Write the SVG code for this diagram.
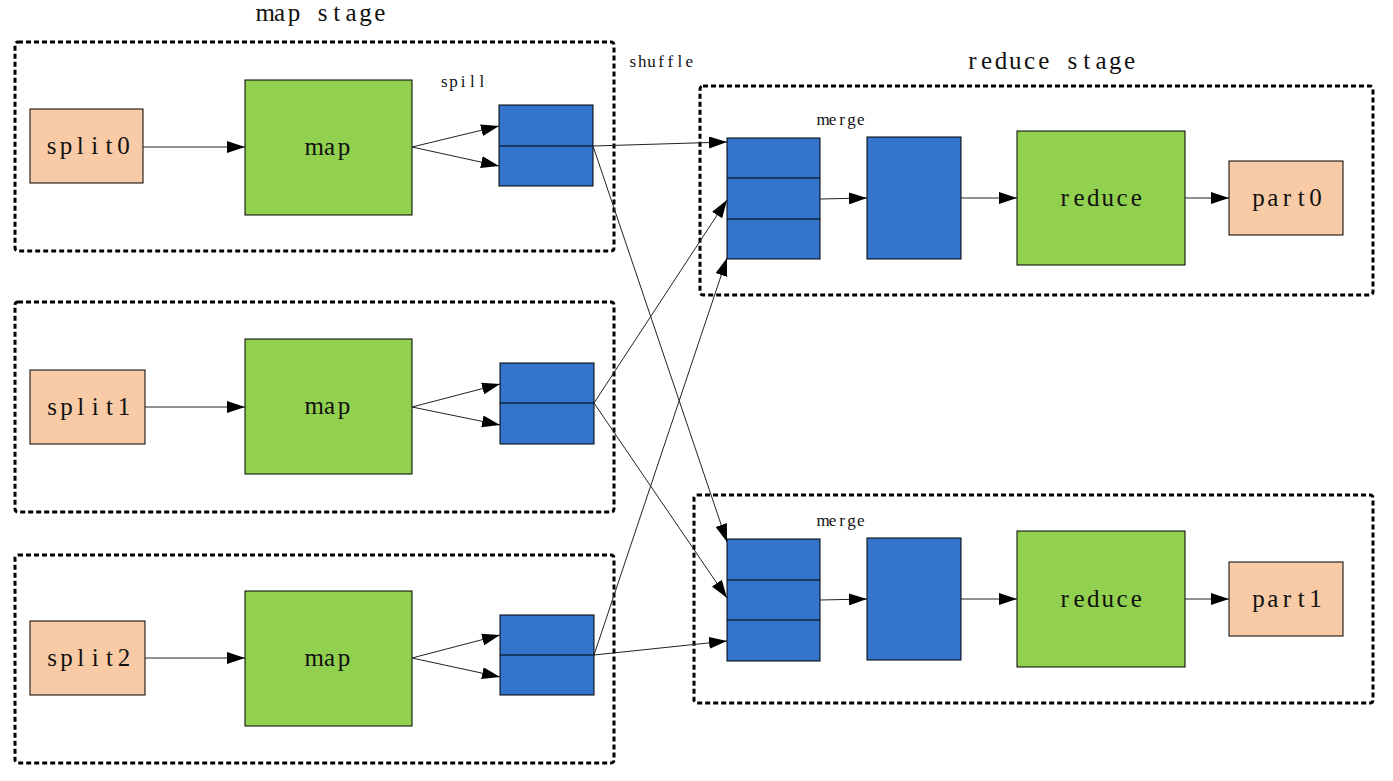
<svg xmlns="http://www.w3.org/2000/svg" width="1393" height="781" viewBox="0 0 1393 781">
<defs>
<style>
.stage{fill:none;stroke:#000;stroke-width:3;stroke-dasharray:5 3}
.peach{fill:#F8CBA6;stroke:#000;stroke-width:1}
.green{fill:#92D050;stroke:#000;stroke-width:1}
.blue{fill:#3474CC;stroke:#000;stroke-width:1}
.div{stroke:#000;stroke-width:1}
.lbl{font-family:"Liberation Serif",serif;font-size:25px;text-anchor:middle;fill:#111}
.small{font-family:"Liberation Serif",serif;font-size:17px;text-anchor:middle;fill:#111}
.title{font-family:"Liberation Serif",serif;font-size:25px;text-anchor:middle;fill:#111}
.conn line{stroke:#222;stroke-width:1;fill:none}
</style>
<marker id="ah" viewBox="0 0 18 12" refX="18" refY="6" markerWidth="18" markerHeight="12" markerUnits="userSpaceOnUse" orient="auto">
<path d="M0,0 L18,6 L0,12 Z" fill="#000"/>
</marker>
</defs>
<rect width="1393" height="781" fill="#fff"/>

<g id="stages">
<rect class="stage" x="15" y="42" width="599" height="209" rx="3"/>
<rect class="stage" x="15" y="302" width="599" height="210" rx="3"/>
<rect class="stage" x="15" y="555" width="599" height="208" rx="3"/>
<rect class="stage" x="700" y="86" width="673" height="209" rx="3"/>
<rect class="stage" x="694" y="495" width="679" height="208" rx="3"/>
</g>

<g id="titles">
<text class="title" x="265.3 279.6 293.9 308.2 322.5 336.8 351.1 365.4 379.7" y="21">map stage</text>
<text class="title" x="972.35 986.65 1000.95 1015.25 1029.55 1043.85 1058.15 1072.45 1086.75 1101.05 1115.35 1129.65" y="69">reduce stage</text>
<text class="small" x="632.8 642.2 651.6 661 670.4 679.8 689.2" y="67">shuffle</text>
<text class="small" x="444.2 453.6 463 472.4 481.8" y="87">spill</text>
<text class="small" x="823.2 832.6 842 851.4 860.8" y="125">merge</text>
<text class="small" x="823.2 832.6 842 851.4 860.8" y="526">merge</text>
</g>

<g id="split0"><rect class="peach" x="30" y="109" width="113" height="74"/><text class="lbl" x="51.5 65.9 80.3 94.7 109.1 123.5" y="154">split0</text></g>
<g id="split1"><rect class="peach" x="30" y="370" width="115" height="74"/><text class="lbl" x="52 66.4 80.8 95.2 109.6 124" y="415">split1</text></g>
<g id="split2"><rect class="peach" x="30" y="621" width="115" height="74"/><text class="lbl" x="52 66.4 80.8 95.2 109.6 124" y="666">split2</text></g>

<g id="map0"><rect class="green" x="245" y="80" width="167" height="135"/><text class="lbl" x="314.2 329.5 344" y="155">map</text></g>
<g id="map1"><rect class="green" x="245" y="339" width="167" height="135"/><text class="lbl" x="314.2 329.5 344" y="414">map</text></g>
<g id="map2"><rect class="green" x="245" y="591" width="167" height="135"/><text class="lbl" x="314.2 329.5 344" y="666">map</text></g>

<g id="spill0"><rect class="blue" x="499" y="105" width="94" height="81"/><line class="div" x1="499" y1="146" x2="593" y2="146"/></g>
<g id="spill1"><rect class="blue" x="500" y="363" width="94" height="81"/><line class="div" x1="500" y1="403" x2="594" y2="403"/></g>
<g id="spill2"><rect class="blue" x="500" y="615" width="94" height="80"/><line class="div" x1="500" y1="655" x2="594" y2="655"/></g>

<g id="merge0"><rect class="blue" x="727" y="138" width="93" height="121"/><line class="div" x1="727" y1="178" x2="820" y2="178"/><line class="div" x1="727" y1="219" x2="820" y2="219"/></g>
<g id="merge1"><rect class="blue" x="727" y="539" width="93" height="122"/><line class="div" x1="727" y1="580" x2="820" y2="580"/><line class="div" x1="727" y1="620" x2="820" y2="620"/></g>

<g id="sorted0"><rect class="blue" x="867" y="137" width="94" height="122"/></g>
<g id="sorted1"><rect class="blue" x="867" y="538" width="94" height="122"/></g>

<g id="reduce0"><rect class="green" x="1017" y="131" width="168" height="134"/><text class="lbl" x="1064.75 1079.05 1093.35 1107.65 1121.95 1136.25" y="206">reduce</text></g>
<g id="reduce1"><rect class="green" x="1017" y="531" width="168" height="136"/><text class="lbl" x="1064.75 1079.05 1093.35 1107.65 1121.95 1136.25" y="607">reduce</text></g>

<g id="part0"><rect class="peach" x="1229" y="161" width="114" height="74"/><text class="lbl" x="1258.4 1272.7 1287 1301.3 1315.6" y="206">part0</text></g>
<g id="part1"><rect class="peach" x="1229" y="562" width="114" height="74"/><text class="lbl" x="1258.4 1272.7 1287 1301.3 1315.6" y="607">part1</text></g>

<g id="connectors" class="conn">
<line x1="143" y1="147" x2="245" y2="147" marker-end="url(#ah)"/>
<line x1="145" y1="407" x2="245" y2="407" marker-end="url(#ah)"/>
<line x1="145" y1="658" x2="245" y2="658" marker-end="url(#ah)"/>

<line x1="412" y1="147" x2="499" y2="126" marker-end="url(#ah)"/>
<line x1="412" y1="147" x2="499" y2="166" marker-end="url(#ah)"/>
<line x1="412" y1="407" x2="500" y2="384" marker-end="url(#ah)"/>
<line x1="412" y1="407" x2="500" y2="425" marker-end="url(#ah)"/>
<line x1="412" y1="658" x2="500" y2="635" marker-end="url(#ah)"/>
<line x1="412" y1="658" x2="500" y2="677" marker-end="url(#ah)"/>

<line x1="593" y1="146" x2="727" y2="142" marker-end="url(#ah)"/>
<line x1="593" y1="146" x2="727" y2="542" marker-end="url(#ah)"/>
<line x1="594" y1="403" x2="727" y2="200" marker-end="url(#ah)"/>
<line x1="594" y1="403" x2="727" y2="598" marker-end="url(#ah)"/>
<line x1="594" y1="655" x2="727" y2="258" marker-end="url(#ah)"/>
<line x1="594" y1="655" x2="727" y2="641" marker-end="url(#ah)"/>

<line x1="820" y1="199" x2="867" y2="198" marker-end="url(#ah)"/>
<line x1="961" y1="198" x2="1017" y2="198" marker-end="url(#ah)"/>
<line x1="1185" y1="198" x2="1229" y2="198" marker-end="url(#ah)"/>
<line x1="820" y1="600" x2="867" y2="599" marker-end="url(#ah)"/>
<line x1="961" y1="599" x2="1017" y2="599" marker-end="url(#ah)"/>
<line x1="1185" y1="599" x2="1229" y2="599" marker-end="url(#ah)"/>
</g>
</svg>
